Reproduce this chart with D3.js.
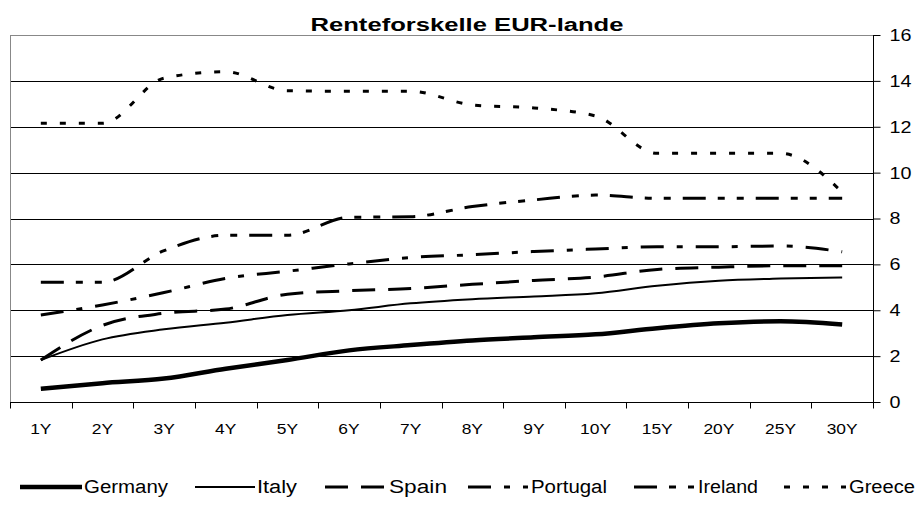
<!DOCTYPE html>
<html>
<head>
<meta charset="utf-8">
<script src="https://cdn.jsdelivr.net/npm/d3@7"></script>
<style>
  html, body { margin: 0; padding: 0; background: #fff; }
  svg { display: block; font-family: Arial, "Liberation Sans", sans-serif; }
</style>
</head>
<body>
<svg id="chart" width="916" height="505"></svg>
<script>
// ---- Data ----
const categories = ["1Y","2Y","3Y","4Y","5Y","6Y","7Y","8Y","9Y","10Y","15Y","20Y","25Y","30Y"];
const seriesNames = ["Germany","Italy","Spain","Portugal","Ireland","Greece"];
const germany  = [0.58, 0.82, 1.02, 1.45, 1.83, 2.25, 2.48, 2.68, 2.82, 2.95, 3.22, 3.43, 3.52, 3.38];
const italy    = [1.83, 2.73, 3.17, 3.46, 3.79, 4.0, 4.3, 4.48, 4.6, 4.74, 5.07, 5.29, 5.38, 5.43];
const spain    = [1.83, 3.34, 3.87, 4.05, 4.7, 4.85, 4.95, 5.13, 5.3, 5.45, 5.78, 5.88, 5.94, 5.94];
const portugal = [3.79, 4.23, 4.77, 5.39, 5.7, 6.02, 6.3, 6.42, 6.56, 6.67, 6.77, 6.77, 6.8, 6.55];
const ireland  = [5.22, 5.22, 6.6, 7.27, 7.27, 8.05, 8.08, 8.52, 8.81, 9.02, 8.88, 8.88, 8.88, 8.88];
const greece   = [12.15, 12.15, 14.12, 14.4, 13.57, 13.55, 13.55, 12.95, 12.82, 12.47, 10.84, 10.84, 10.84, 9.15];
const yTicks = [0, 2, 4, 6, 8, 10, 12, 14, 16];
const title = "Renteforskelle EUR-lande";

const seriesValues = [germany, italy, spain, portugal, ireland, greece];

// ---- Styles (not data) ----
const styles = [
  { width: 4.5, dash: null },
  { width: 2,   dash: null },
  { width: 3,   dash: "23,13" },
  { width: 3,   dash: "23,13,6,13" },
  { width: 3,   dash: "23,12,7,12,7,12" },
  { width: 3,   dash: "6,13" }
];
const stretch = 1.16;
function widen(sel) {
  sel.each(function () {
    const w = this.getComputedTextLength();
    this.setAttribute("textLength", w * stretch);
    this.setAttribute("lengthAdjust", "spacingAndGlyphs");
  });
}

// ---- Layout ----
const pLeft = 10, pRight = 873, pTop = 35, pBottom = 402;
const svg = d3.select("#chart");

const x = d3.scalePoint().domain(categories).range([pLeft, pRight]).padding(0.5);
const xBand = d3.scaleBand().domain(categories).range([pLeft, pRight]);
const y = d3.scaleLinear().domain([0, 16]).range([pBottom, pTop]);

// gridlines
svg.append("g").selectAll("line").data(yTicks.filter(t => t > 0 && t < 16)).join("line")
  .attr("x1", pLeft).attr("x2", pRight)
  .attr("y1", d => Math.round(y(d)) + 0.5).attr("y2", d => Math.round(y(d)) + 0.5)
  .attr("stroke", "#000").attr("stroke-width", 1);

// plot border (top/left gray)
svg.append("line").attr("x1", pLeft).attr("x2", pRight).attr("y1", pTop + 0.5).attr("y2", pTop + 0.5)
  .attr("stroke", "#888").attr("stroke-width", 1);
svg.append("line").attr("x1", pLeft + 0.5).attr("x2", pLeft + 0.5).attr("y1", pTop).attr("y2", pBottom)
  .attr("stroke", "#888").attr("stroke-width", 1);

// bottom axis
const xAxis = d3.axisBottom(xBand).tickSize(0).tickPadding(0).tickFormat("");
const gx = svg.append("g").attr("transform", `translate(0,${pBottom + 0.5})`).call(xAxis);
gx.select(".domain").attr("stroke", "#000").attr("d", `M${pLeft},0H${pRight}`);
const boundaries = categories.map(c => xBand(c)).concat([pRight]);
gx.selectAll("line.bt").data(boundaries).join("line").attr("class", "bt")
  .attr("x1", d => Math.round(d) + 0.5).attr("x2", d => Math.round(d) + 0.5)
  .attr("y1", 0).attr("y2", 6).attr("stroke", "#000");
svg.append("g").selectAll("text").data(categories).join("text")
  .attr("x", d => x(d)).attr("y", 434)
  .attr("text-anchor", "middle").attr("font-size", 15).attr("fill", "#000")
  .text(d => d)
  .call(widen);

// right axis
const yAxis = d3.axisRight(y).tickValues(yTicks).tickSize(7).tickPadding(9).tickFormat(d3.format("d"));
const gy = svg.append("g").attr("transform", `translate(${pRight + 0.5},0)`).call(yAxis);
gy.select(".domain").attr("stroke", "#000").attr("d", `M0,${pTop}V${pBottom + 6}`);
gy.selectAll(".tick line").attr("stroke", "#000");
gy.selectAll(".tick text").attr("font-size", 17).attr("fill", "#000")
  .attr("font-family", "Arial, 'Liberation Sans', sans-serif")
  .call(widen);

// lines
const line = d3.line().x((d, i) => x(categories[i])).y(d => y(d)).curve(d3.curveMonotoneX);
svg.append("g").selectAll("path").data(seriesValues).join("path")
  .attr("d", d => line(d))
  .attr("fill", "none").attr("stroke", "#000")
  .attr("stroke-width", (d, i) => styles[i].width)
  .attr("stroke-dasharray", (d, i) => styles[i].dash)
  .attr("stroke-linejoin", "round");

// title
svg.append("text").attr("x", 467).attr("y", 31).attr("text-anchor", "middle")
  .attr("font-size", 18).attr("font-weight", "bold").attr("fill", "#000")
  .attr("textLength", 313).attr("lengthAdjust", "spacingAndGlyphs")
  .text(title);

// legend
const legendLayout = [
  { x1: 20,  x2: 82,  tx: 84,  tl: 84 },
  { x1: 195, x2: 255, tx: 257, tl: 40 },
  { x1: 325, x2: 387, tx: 389, tl: 58 },
  { x1: 468, x2: 528, tx: 531, tl: 76 },
  { x1: 634, x2: 694, tx: 698, tl: 60 },
  { x1: 784, x2: 846, tx: 849, tl: 66 }
];
const lg = svg.append("g");
seriesNames.forEach((name, i) => {
  const L = legendLayout[i];
  lg.append("line").attr("x1", L.x1).attr("x2", L.x2).attr("y1", 487).attr("y2", 487)
    .attr("stroke", "#000").attr("stroke-width", styles[i].width)
    .attr("stroke-dasharray", styles[i].dash);
  lg.append("text").attr("x", L.tx).attr("y", 493).attr("font-size", 18).attr("fill", "#000")
    .attr("textLength", L.tl).attr("lengthAdjust", "spacingAndGlyphs")
    .text(name);
});
</script>
</body>
</html>
